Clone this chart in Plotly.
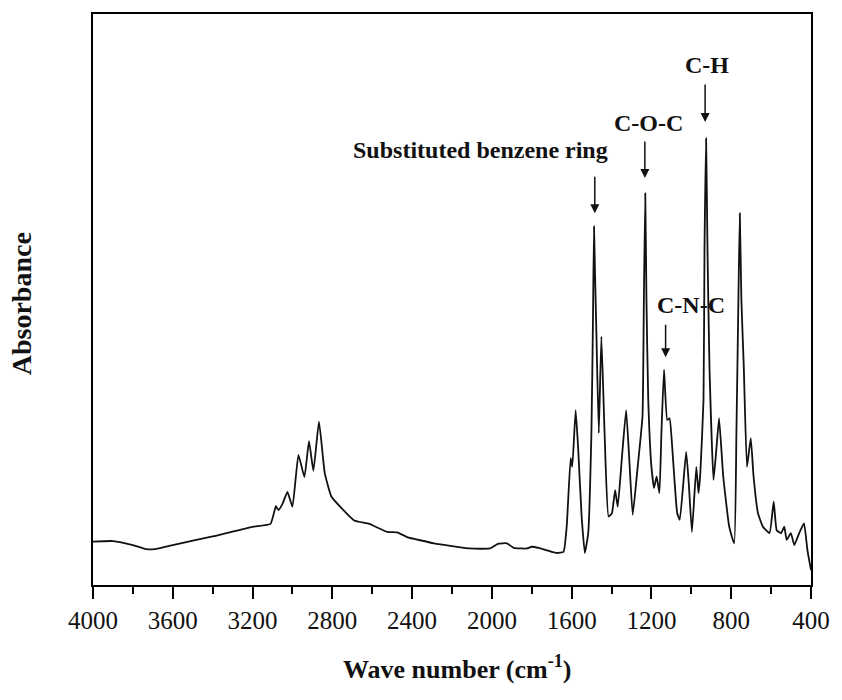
import plotly.graph_objects as go

# FTIR spectrum
wavenumber = [4000, 3900, 3800, 3735, 3690, 3600, 3400, 3200, 3110, 3083, 3070, 3050, 3025, 3000,
              2970, 2940, 2917, 2895, 2867, 2838, 2805, 2755, 2690, 2615, 2525, 2475, 2425, 2290,
              2110, 2010, 1970, 1925, 1890, 1825, 1800, 1765, 1699, 1674, 1641, 1625, 1605, 1597,
              1580, 1567, 1550, 1534, 1517, 1501, 1493, 1488, 1483, 1476, 1464, 1451, 1435, 1415,
              1398, 1382, 1369, 1349, 1327, 1311, 1294, 1269, 1245, 1238, 1231, 1225, 1216, 1200,
              1187, 1174, 1160, 1150, 1137, 1121, 1109, 1096, 1071, 1058, 1026, 1013, 997, 975,
              964, 955, 939, 934, 926, 919, 909, 889, 876, 861, 840, 810, 785, 774, 764, 757, 749,
              737, 721, 702, 688, 666, 641, 608, 587, 572, 550, 534, 522, 501, 484, 459, 435, 418, 400]
absorbance = [0.076, 0.077, 0.070, 0.063, 0.063, 0.070, 0.085, 0.102, 0.107, 0.138, 0.131, 0.142, 0.163, 0.137,
              0.228, 0.189, 0.252, 0.200, 0.286, 0.196, 0.155, 0.135, 0.113, 0.107, 0.093, 0.092, 0.084, 0.073,
              0.064, 0.064, 0.072, 0.073, 0.065, 0.064, 0.067, 0.065, 0.058, 0.056, 0.058, 0.102, 0.222, 0.207,
              0.306, 0.236, 0.120, 0.056, 0.091, 0.266, 0.470, 0.628, 0.546, 0.441, 0.266, 0.435, 0.266, 0.120,
              0.126, 0.166, 0.137, 0.219, 0.306, 0.219, 0.123, 0.207, 0.295, 0.499, 0.686, 0.499, 0.324, 0.207,
              0.170, 0.190, 0.161, 0.266, 0.377, 0.289, 0.292, 0.242, 0.126, 0.114, 0.233, 0.179, 0.093, 0.207,
              0.161, 0.196, 0.324, 0.587, 0.782, 0.587, 0.382, 0.184, 0.231, 0.292, 0.190, 0.102, 0.073, 0.266, 0.499, 0.651, 0.499,
              0.382, 0.207, 0.257, 0.190, 0.126, 0.102, 0.091, 0.146, 0.096, 0.091, 0.102, 0.079, 0.091, 0.070, 0.091, 0.108, 0.061, 0.026]

tick_values = [4000, 3600, 3200, 2800, 2400, 2000, 1600, 1200, 800, 400]
tick_labels = [str(v) for v in tick_values]

# peak labels: text, text position (wavenumber, absorbance), arrow tip (wavenumber, absorbance), arrow length px
label_texts = ["Substituted benzene ring", "C-O-C", "C-H", "C-N-C"]
label_x = [2059, 1215, 922, 1002]
label_y = [0.762, 0.809, 0.911, 0.490]
arrow_x = [1484, 1233, 931, 1129]
arrow_y = [0.651, 0.713, 0.811, 0.399]
arrow_len = [38, 38, 39, 34]

SERIF = "Liberation Serif, Times New Roman, serif"

fig = go.Figure()
fig.add_trace(go.Scatter(x=wavenumber, y=absorbance, mode="lines",
                         line=dict(color="#111", width=1.8, shape="spline", smoothing=0.4),
                         showlegend=False))

annotations = []
for t, x, y in zip(label_texts, label_x, label_y):
    annotations.append(dict(x=x, y=y, xref="x", yref="y", text="<b>%s</b>" % t, showarrow=False,
                            font=dict(family=SERIF, size=24, color="#111"),
                            xanchor="center", yanchor="middle"))
for x, y, L in zip(arrow_x, arrow_y, arrow_len):
    annotations.append(dict(x=x, y=y, xref="x", yref="y", text="", showarrow=True,
                            ax=0, ay=-L, arrowhead=2, arrowsize=1.2, arrowwidth=1.5,
                            arrowcolor="#111"))
annotations.append(dict(x=0.507, y=-0.145, xref="paper", yref="paper",
                        text="<b>Wave number (cm<sup>-1</sup>)</b>", showarrow=False,
                        font=dict(family=SERIF, size=26, color="#111"),
                        xanchor="center", yanchor="middle"))
annotations.append(dict(x=-0.1, y=0.492, xref="paper", yref="paper",
                        text="<b>Absorbance</b>", showarrow=False, textangle=-90,
                        font=dict(family=SERIF, size=28, color="#111"),
                        xanchor="center", yanchor="middle"))

fig.update_layout(
    width=842, height=700,
    margin=dict(l=93, r=27, t=14, b=115),
    paper_bgcolor="white", plot_bgcolor="white",
    annotations=annotations,
    xaxis=dict(range=[4000, 400], tickmode="array", tickvals=tick_values, ticktext=tick_labels,
               ticks="outside", ticklen=12, tickwidth=1.5, tickcolor="black",
               minor=dict(tickmode="linear", tick0=0, dtick=200, ticks="outside", ticklen=7,
                          tickwidth=1.5, tickcolor="black"),
               showline=True, linecolor="black", linewidth=1.8, mirror=True,
               showgrid=False, zeroline=False,
               tickfont=dict(family=SERIF, size=25, color="#111")),
    yaxis=dict(range=[0, 1], showticklabels=False, ticks="", showline=True, linecolor="black",
               linewidth=1.8, mirror=True, showgrid=False, zeroline=False),
)

fig.write_html("out.html")
